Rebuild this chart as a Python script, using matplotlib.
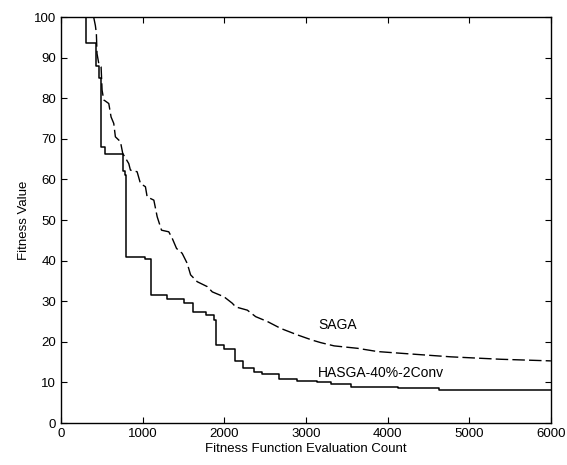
import matplotlib
matplotlib.use("Agg")
import matplotlib.pyplot as plt

plt.rcParams['font.family'] = ['Liberation Sans', 'DejaVu Sans']

# HASGA-40%-2Conv (solid, stepwise)
hasga_x = [0, 307, 433, 462, 491, 543, 756, 780, 801, 1034, 1104, 1300, 1505, 1615,
           1770, 1873, 1902, 1996, 2127, 2233, 2364, 2466, 2670, 2896, 3141, 3304,
           3550, 4122, 4633, 6000]
hasga_y = [100, 93.7, 88, 85, 68, 66.3, 62, 61, 41, 40.5, 31.5, 30.5, 29.5, 27.4,
           26.6, 25.4, 19.2, 18.2, 15.3, 13.5, 12.6, 12.1, 10.9, 10.3, 10.0, 9.5,
           8.9, 8.7, 8.1, 8.1]

# SAGA (dashed)
saga_x = [0, 400, 421, 433, 441, 462, 491, 503, 523, 585, 613, 646, 666, 728, 756,
          830, 850, 932, 973, 1034, 1055, 1137, 1178, 1231, 1320, 1362, 1415, 1484,
          1546, 1587, 1669, 1791, 1853, 1996, 2098, 2139, 2282, 2384, 2528, 2691,
          2896, 3080, 3181, 3345, 3632, 3877, 4286, 4776, 5390, 6000]
saga_y = [100, 100, 97.9, 96, 91, 88.6, 87.7, 82, 79.6, 78.7, 75.4, 73.8, 70.5,
          69.3, 66.4, 63.9, 62.3, 61.9, 59, 58.2, 55.7, 54.9, 50.8, 47.5, 47.1,
          45.5, 43, 41.8, 39.3, 36.5, 34.8, 33.6, 32.3, 31.1, 29.5, 28.6, 27.8,
          26.2, 25, 23.3, 21.7, 20.4, 19.8, 19, 18.4, 17.6, 17, 16.3, 15.7, 15.3]

x_ticks = [0, 1000, 2000, 3000, 4000, 5000, 6000]
y_ticks = [0, 10, 20, 30, 40, 50, 60, 70, 80, 90, 100]

fig = plt.figure(figsize=(5.67, 4.65), dpi=100)
ax = fig.add_axes([0.1076, 0.0903, 0.864, 0.873])

ax.plot(hasga_x, hasga_y, color='black', lw=1.1, drawstyle='steps-post')
ax.plot(saga_x, saga_y, color='black', lw=1.0, linestyle=(0, (9, 3)))

ax.text(3150, 24.1, 'SAGA', fontsize=10, va='center', ha='left')
ax.text(3150, 12.3, 'HASGA-40%-2Conv', fontsize=10, va='center', ha='left')

ax.set_xlim(0, 6000)
ax.set_ylim(0, 100)
ax.set_xticks(x_ticks)
ax.set_yticks(y_ticks)
ax.tick_params(direction='in', top=True, right=True, labelsize=9.5, length=4)
for s in ax.spines.values():
    s.set_linewidth(1.0)
ax.set_xlabel('Fitness Function Evaluation Count', fontsize=9.5, labelpad=2)
ax.set_ylabel('Fitness Value', fontsize=9.5, labelpad=3)

fig.savefig('out.png', dpi=100)
